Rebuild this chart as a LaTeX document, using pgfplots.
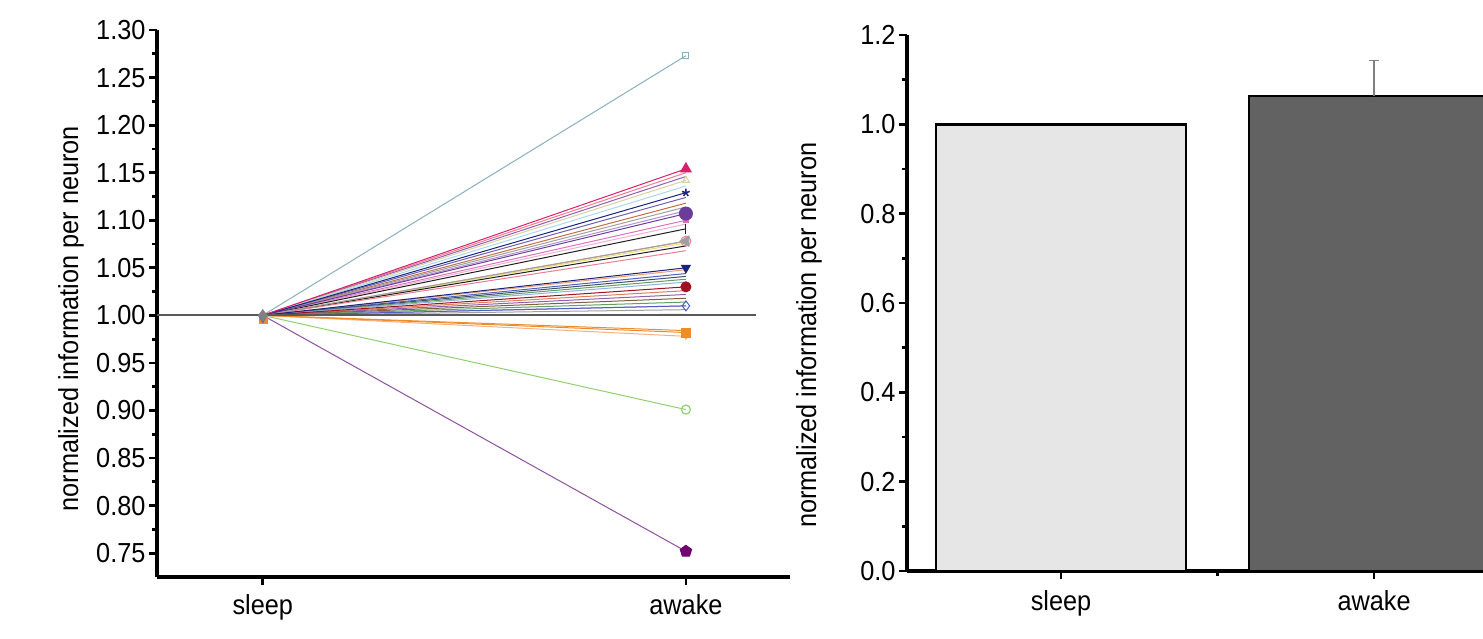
\documentclass[border=0pt]{standalone}
\usepackage{fontspec}
\setmainfont{Liberation Sans}[FakeStretch=0.92]
\usepackage{pgfplots}
\pgfplotsset{compat=1.18}
\usetikzlibrary{plotmarks}

\definecolor{cBlueGray}{HTML}{8AAFC0}
\definecolor{cCrimson}{HTML}{D9206A}
\definecolor{cPink}{HTML}{F07C90}
\definecolor{cPurple}{HTML}{9060B0}
\definecolor{cKhaki}{HTML}{D8D0A0}
\definecolor{cLightBlue}{HTML}{A8D8F0}
\definecolor{cNavy}{HTML}{1A237E}
\definecolor{cSlate}{HTML}{7060B0}
\definecolor{cBrown}{HTML}{C07040}
\definecolor{cGray}{HTML}{A0A0A0}
\definecolor{cDPurple}{HTML}{6A3D9A}
\definecolor{cLavender}{HTML}{B090D0}
\definecolor{cMagenta}{HTML}{E070C0}
\definecolor{cLPink}{HTML}{F0B0D0}
\definecolor{cBlack}{HTML}{202020}
\definecolor{cYellow}{HTML}{E8E070}
\definecolor{cPeach}{HTML}{F0A070}
\definecolor{cBlue}{HTML}{5060C0}
\definecolor{cDSlate}{HTML}{405070}
\definecolor{cGreen}{HTML}{60A060}
\definecolor{cSky}{HTML}{90B0E0}
\definecolor{cDRed}{HTML}{A01020}
\definecolor{cOrange}{HTML}{E08050}
\definecolor{cBrown2}{HTML}{806040}
\definecolor{cOlive}{HTML}{A0A040}
\definecolor{cOr2}{HTML}{F08C28}
\definecolor{cLOr}{HTML}{F8B080}
\definecolor{cLGreen}{HTML}{90D070}
\definecolor{cViolet}{HTML}{9050A0}
\definecolor{cPent}{HTML}{700070}
\definecolor{barLight}{HTML}{E6E6E6}
\definecolor{barDark}{HTML}{626262}

\newcommand{\nline}[3]{\addplot[line width=1bp, color=#1, mark=none, #3] coordinates {(1,1) (2,#2)};}

\begin{document}
\begin{tikzpicture}
\useasboundingbox (0,0) rectangle (1483bp,639bp);
\pgfplotsset{
  common/.style={
    scale only axis,
    axis x line*=bottom, axis y line*=left,
    axis line style={line width=3.2bp, black},
    tick align=outside,
    major tick length=8bp, minor tick length=5bp,
    every tick/.style={line width=2.8bp, black},
    tick label style={font=\fontsize{27.5bp}{32bp}\selectfont},
    ylabel style={font=\fontsize{27.5bp}{32bp}\selectfont},
  }
}
% ---------------- left panel ----------------
\begin{axis}[common,
  at={(157bp,62bp)}, anchor=south west,
  width=633bp, height=547bp,
  xmin=0.75, xmax=2.246, ymin=0.725, ymax=1.30,
  xtick={1,2}, xticklabels={sleep,awake},
  xticklabel style={yshift=-6bp},
  ytick={0.75,0.80,0.85,0.90,0.95,1.00,1.05,1.10,1.15,1.20,1.25,1.30},
  minor y tick num=1,
  yticklabel style={/pgf/number format/.cd, fixed, fixed zerofill, precision=2, assume math mode=true},
  ylabel={normalized information per neuron},
  ylabel style={at={(axis description cs:-0.136,0.472)}, anchor=center},
  clip=false,
]
\nline{cBlueGray}{1.273}{mark=square, mark indices={2}, mark size=3bp}
\nline{cPink}{1.150}{}
\nline{cPurple}{1.146}{}
\nline{cKhaki}{1.142}{mark=triangle, mark indices={2}, mark size=4bp}
\nline{cLightBlue}{1.136}{}
\nline{cSlate}{1.124}{}
\nline{cBrown}{1.118}{}
\nline{cGray}{1.114}{}
\nline{cLavender}{1.110}{}
\nline{cMagenta}{1.100}{mark=square*, mark indices={2}, mark size=2.5bp}
\nline{cLPink}{1.096}{}
\nline{cBlack}{1.091}{mark=|, mark indices={2}, mark size=5bp}
\nline{cPink}{1.078}{mark=o, mark indices={2}, mark size=5bp}
\nline{cYellow}{1.076}{}
\nline{cBlack}{1.073}{}
\nline{cPink}{1.068}{}
\nline{cGray}{1.078}{mark=triangle*, mark indices={2}, mark size=6bp, mark options={rotate=90}}
\nline{cDPurple}{1.107}{mark=*, mark indices={2}, mark size=6.5bp}
\nline{cNavy}{1.129}{mark=star, mark indices={2}, mark size=4bp, mark options={line width=1.5bp}}
\nline{cCrimson}{1.154}{mark=triangle*, mark indices={2}, mark size=6bp}
\nline{cPeach}{1.048}{}
\nline{cBlue}{1.044}{}
\nline{cDSlate}{1.041}{}
\nline{cGreen}{1.038}{}
\nline{cSky}{1.035}{}
\nline{cOrange}{1.026}{}
\nline{cPurple}{1.022}{}
\nline{cBrown2}{1.018}{}
\nline{cGreen}{1.014}{}
\nline{cLavender}{1.010}{}
\nline{cGray}{1.006}{}
\nline{cOlive}{1.001}{}
\nline{cBlue}{1.010}{mark=diamond, mark indices={2}, mark size=5bp}
\nline{cDRed}{1.030}{mark=*, mark indices={2}, mark size=5bp}
\nline{cNavy}{1.050}{mark=triangle*, mark indices={2}, mark size=5bp, mark options={rotate=180}}
\nline{cOr2}{0.984}{}
\nline{cLOr}{0.978}{mark=triangle, mark indices={2}, mark size=3bp, mark options={rotate=180}}
\nline{cOr2}{0.982}{mark=square*, mark indices={2}, mark size=4.5bp}
\nline{cLGreen}{0.901}{mark=o, mark indices={2}, mark size=4.5bp, mark options={line width=1.2bp}}
\nline{cViolet}{0.752}{mark=pentagon*, mark indices={2}, mark size=6bp, mark options={fill=cPent, draw=cPent}}
% reference line at 1.00
\addplot[line width=2.2bp, color=black!65, mark=none] coordinates {(0.75,1) (2.165,1)};
% sleep markers
\addplot[only marks, mark=square*, mark size=4bp, color=cOr2] coordinates {(1,0.996)};
\addplot[only marks, mark=triangle*, mark size=5bp, color=cSlate, mark options={rotate=180}] coordinates {(1,0.997)};
\addplot[only marks, mark=diamond*, mark size=6bp, color=gray] coordinates {(1,1)};
\end{axis}
% ---------------- right panel ----------------
\begin{axis}[common,
  at={(907bp,68bp)}, anchor=south west,
  width=576bp, height=536bp,
  xmin=0.508, xmax=2.348, ymin=0, ymax=1.2,
  xtick={1,2}, xticklabels={sleep,awake},
  xticklabel style={yshift=-8bp},
  minor xtick={1.5},
  ytick={0,0.2,0.4,0.6,0.8,1.0,1.2},
  minor y tick num=1,
  yticklabel style={/pgf/number format/.cd, fixed, fixed zerofill, precision=1, assume math mode=true},
  ylabel={normalized information per neuron},
  ylabel style={at={(axis description cs:-0.170,0.44)}, anchor=center},
]
\addplot[ybar, bar width=250bp, bar shift=0pt, fill=barLight, draw=black, line width=2.5bp]
  coordinates {(1,1.0)};
\addplot[ybar, bar width=250bp, bar shift=0pt, fill=barDark, draw=black, line width=2.5bp,
  error bars/.cd, y dir=plus, y explicit,
  error bar style={line width=1.8bp, color=gray},
  error mark options={rotate=90, mark size=5bp, line width=1.8bp, color=gray}]
  coordinates {(2,1.063) +- (0,0.08)};
\end{axis}
\end{tikzpicture}
\end{document}
